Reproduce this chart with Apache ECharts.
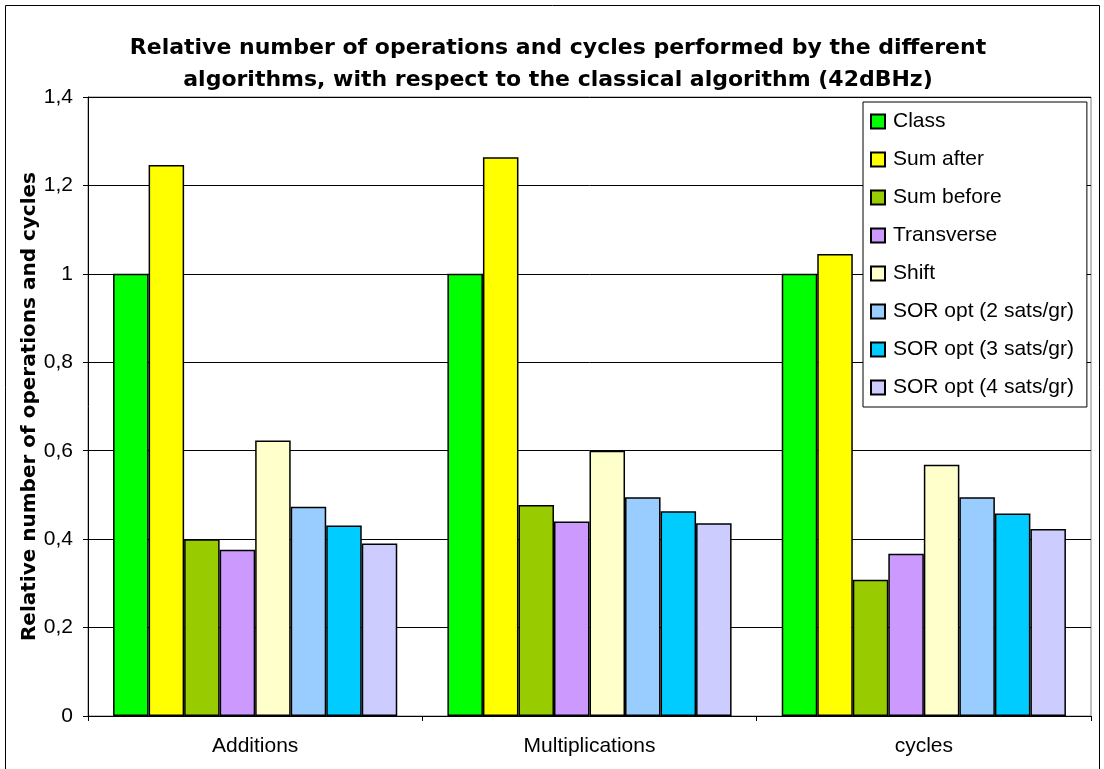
<!DOCTYPE html>
<html>
<head>
<meta charset="utf-8">
<title>Relative number of operations and cycles</title>
<script src="https://cdn.jsdelivr.net/npm/echarts@6/dist/echarts.min.js"></script>
<style>
  html, body { margin: 0; padding: 0; background: #fff; }
  #chart { width: 1104px; height: 769px; }
</style>
</head>
<body>
<div id="chart"></div>
<script>
// Operation groups along the x axis
var categories = ['Additions', 'Multiplications', 'cycles'];

// Relative counts for each algorithm (classical algorithm = 1)
var classVals      = [1.000, 1.000, 1.000];
var sumAfterVals   = [1.246, 1.264, 1.045];
var sumBeforeVals  = [0.400, 0.477, 0.308];
var transverseVals = [0.376, 0.440, 0.367];
var shiftVals      = [0.623, 0.600, 0.568];
var sor2Vals       = [0.473, 0.495, 0.495];
var sor3Vals       = [0.431, 0.463, 0.458];
var sor4Vals       = [0.390, 0.436, 0.423];

var seriesNames = ['Class', 'Sum after', 'Sum before', 'Transverse', 'Shift',
                   'SOR opt (2 sats/gr)', 'SOR opt (3 sats/gr)', 'SOR opt (4 sats/gr)'];
var seriesData = [classVals, sumAfterVals, sumBeforeVals, transverseVals, shiftVals,
                  sor2Vals, sor3Vals, sor4Vals];
var seriesColors = ['#00FF00', '#FFFF00', '#99CC00', '#CC99FF', '#FFFFCC',
                    '#99CCFF', '#00CCFF', '#CCCCFF'];

var FONT = "'Liberation Sans', Arial, sans-serif";
var BOLD_FONT = "'DejaVu Sans', 'Liberation Sans', Arial, sans-serif";

var chart = echarts.init(document.getElementById('chart'), null, { renderer: 'canvas' });

var series = seriesNames.map(function (name, i) {
  return {
    name: name,
    type: 'bar',
    data: seriesData[i],
    barGap: '0%',
    barCategoryGap: '15%',
    itemStyle: { color: seriesColors[i], borderColor: '#000', borderWidth: 1.5 },
    emphasis: { disabled: true }
  };
});

chart.setOption({
  animation: false,
  backgroundColor: '#fff',
  textStyle: { fontFamily: FONT },
  title: {
    text: 'Relative number of operations and cycles performed by the different\nalgorithms, with respect to the classical algorithm (42dBHz)',
    left: 553,
    top: 27,
    textAlign: 'center',
    textStyle: { fontFamily: BOLD_FONT, fontSize: 22, fontWeight: 'bold', color: '#000', lineHeight: 32 }
  },
  legend: {
    orient: 'vertical',
    left: 863,
    top: 102,
    itemWidth: 14,
    itemHeight: 14,
    itemGap: 17,
    padding: [9, 13, 9, 7],
    backgroundColor: '#fff',
    borderColor: '#000',
    borderWidth: 1,
    icon: 'rect',
    textStyle: { fontFamily: FONT, fontSize: 21, color: '#000', lineHeight: 21, padding: [0, 0, 0, 3] },
    data: seriesNames
  },
  grid: { left: 88, right: 13, top: 97, bottom: 53, show: true, borderColor: '#808080', borderWidth: 1 },
  xAxis: {
    type: 'category',
    data: categories,
    axisLine: { lineStyle: { color: '#000', width: 1 } },
    axisTick: { show: true, length: 5, lineStyle: { color: '#000' } },
    axisLabel: { fontFamily: FONT, fontSize: 21, color: '#000', margin: 20 }
  },
  yAxis: {
    type: 'value',
    min: 0,
    max: 1.4,
    interval: 0.2,
    name: 'Relative number of operations and cycles',
    nameLocation: 'middle',
    nameRotate: 90,
    nameGap: 48,
    nameMoveOverlap: false,
    nameTextStyle: { fontFamily: BOLD_FONT, fontSize: 20, fontWeight: 'bold', color: '#000' },
    axisLine: { show: true, lineStyle: { color: '#000', width: 1 } },
    axisTick: { show: true, length: 5, inside: false, lineStyle: { color: '#000' } },
    axisLabel: {
      fontFamily: FONT, fontSize: 21, color: '#000', margin: 15,
      formatter: function (v) { return String(+v.toFixed(1)).replace('.', ','); }
    },
    splitLine: { show: true, lineStyle: { color: '#000', width: 1 } }
  },
  graphic: [{
    type: 'rect',
    shape: { x: 5.5, y: 5.5, width: 1094, height: 790 },
    style: { fill: null, stroke: '#000', lineWidth: 1 },
    silent: true,
    z: 100
  }],
  series: series
});
</script>
</body>
</html>
